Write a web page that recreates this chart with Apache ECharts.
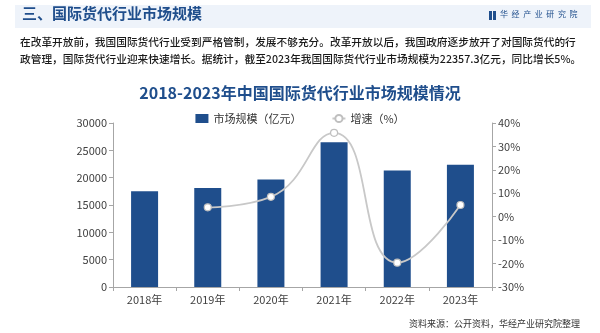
<!DOCTYPE html>
<html><head><meta charset="utf-8">
<script src="https://cdn.jsdelivr.net/npm/echarts@6/dist/echarts.min.js"></script>
<style>html,body{margin:0;padding:0;background:#fff}#c{width:600px;height:333px}</style>
</head><body><div id="c"></div>
<script>
const categories = ['2018年','2019年','2020年','2021年','2022年','2023年'];
const marketSize = [17500, 18100, 19650, 26500, 21293, 22357.3];
const growthRate = [null, 4.0, 8.5, 35.8, -19.6, 5.0];
const leftTicks = {min: 0, max: 30000, interval: 5000};
const rightTicks = {min: -30, max: 40, interval: 10};
const seriesNames = ['市场规模（亿元）', '增速（%）'];
const headerTitle = '三、国际货代行业市场规模';
const paraLines = [
  '在改革开放前，我国国际货代行业受到严格管制，发展不够充分。改革开放以后，我国政府逐步放开了对国际货代的行',
  '政管理，国际货代行业迎来快速增长。据统计，截至2023年我国国际货代行业市场规模为22357.3亿元，同比增长5%。'
];
const chartTitle = '2018-2023年中国国际货代行业市场规模情况';
const sourceText = '资料来源：公开资料，华经产业研究院整理';
const logoText = '华  经  产  业  研  究  院';

const FONT = '"Noto Sans CJK SC", "Noto Sans", sans-serif';
const chart = echarts.init(document.getElementById('c'), null, {renderer: 'canvas'});
chart.setOption({
  animation: false,
  textStyle: {fontFamily: FONT},
  title: {
    text: chartTitle, left: 'center', top: 80,
    textStyle: {fontFamily: FONT, fontSize: 16, fontWeight: 'bold', color: '#1F4E8C'}
  },
  legend: {
    top: 108, left: 'center', itemGap: 30, itemWidth: 13, itemHeight: 9,
    textStyle: {fontFamily: FONT, fontSize: 11, color: '#333'},
    data: [
      {name: seriesNames[0], icon: 'rect'},
      {name: seriesNames[1]}
    ]
  },
  graphic: [
    {type: 'rect', shape: {x: 15, y: 5, width: 576, height: 23}, style: {fill: '#EEF3FA'}, silent: true},
    {type: 'text', left: 22, top: 6, style: {text: headerTitle, font: 'bold 15px ' + FONT, fill: '#1F4E8C'}},
    {type: 'rect', shape: {x: 489, y: 11, width: 3, height: 9}, style: {fill: '#1F4E8C'}},
    {type: 'rect', shape: {x: 493, y: 11, width: 3, height: 9}, style: {fill: '#1F4E8C'}},
    {type: 'text', left: 500, top: 10, style: {text: logoText, font: '8px ' + FONT, fill: '#1F4E8C'}},
    {type: 'text', left: 20, top: 37, style: {text: paraLines[0], font: '500 10.7px ' + FONT, fill: '#1a1a1a'}},
    {type: 'text', left: 20, top: 54, style: {text: paraLines[1], font: '500 10.7px ' + FONT, fill: '#1a1a1a'}},
    {type: 'text', right: 20, top: 319, style: {text: sourceText, font: '9px ' + FONT, fill: '#333'}}
  ],
  grid: {left: 113, right: 108, top: 123, bottom: 46},
  xAxis: {
    type: 'category', data: categories, boundaryGap: true,
    axisLine: {lineStyle: {color: '#A6A6A6'}},
    axisTick: {show: true, alignWithLabel: false, length: 4, lineStyle: {color: '#A6A6A6'}},
    axisLabel: {fontFamily: FONT, fontSize: 11, color: '#404040', margin: 7}
  },
  yAxis: [
    {
      type: 'value', min: leftTicks.min, max: leftTicks.max, interval: leftTicks.interval,
      axisLine: {show: true, lineStyle: {color: '#A6A6A6'}},
      axisTick: {show: true, length: 4, lineStyle: {color: '#A6A6A6'}},
      splitLine: {show: false},
      axisLabel: {fontFamily: FONT, fontSize: 11, color: '#404040', margin: 6, formatter: function (v) { return String(v); }}
    },
    {
      type: 'value', min: rightTicks.min, max: rightTicks.max, interval: rightTicks.interval,
      position: 'right',
      axisLine: {show: true, lineStyle: {color: '#A6A6A6'}},
      axisTick: {show: true, length: 4, lineStyle: {color: '#A6A6A6'}},
      splitLine: {show: false},
      axisLabel: {fontFamily: FONT, fontSize: 11, color: '#404040', margin: 6, formatter: '{value}%'}
    }
  ],
  series: [
    {
      name: seriesNames[0], type: 'bar', data: marketSize, barWidth: 27,
      itemStyle: {color: '#1F4E8C'}
    },
    {
      name: seriesNames[1], type: 'line', yAxisIndex: 1, data: growthRate, smooth: 0.5,
      connectNulls: false,
      symbol: 'circle', symbolSize: 7,
      lineStyle: {color: '#C8C8C8', width: 1.8},
      itemStyle: {color: '#FFFFFF', borderColor: '#BFBFBF', borderWidth: 1.2}
    }
  ]
});
</script></body></html>
